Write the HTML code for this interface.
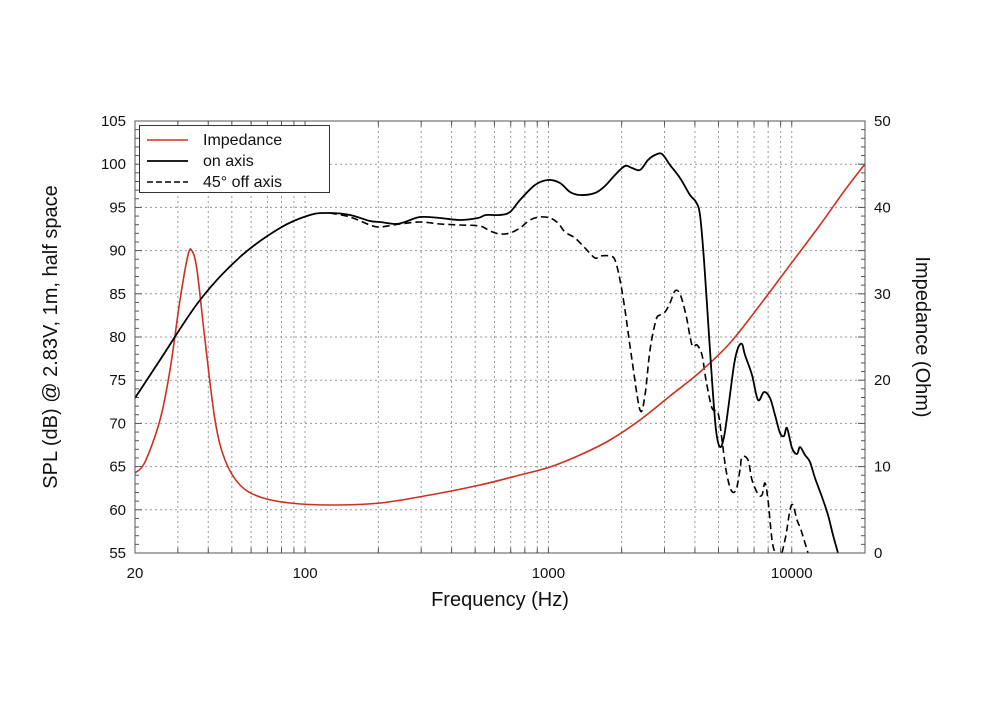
<!DOCTYPE html>
<html><head><meta charset="utf-8"><style>
html,body{margin:0;padding:0;background:#fff;}
svg{display:block;font-family:"Liberation Sans",Arial,sans-serif;}
</style></head><body>
<svg id="s" width="1000" height="718" viewBox="0 0 1000 718" xmlns="http://www.w3.org/2000/svg">
<rect width="1000" height="718" fill="#fff"/>
<g id="grid"></g>
<g id="curves"></g>
<rect x="135" y="121" width="730" height="432" fill="none" stroke="#555" stroke-width="1"/>
<g id="labels" font-size="15" fill="#111"></g>
<text x="500" y="606" font-size="20" text-anchor="middle" fill="#111">Frequency (Hz)</text>
<text transform="translate(57,337) rotate(-90)" font-size="20" text-anchor="middle" fill="#111">SPL (dB) @ 2.83V, 1m, half space</text>
<text transform="translate(916,337) rotate(90)" font-size="20" text-anchor="middle" fill="#111">Impedance (Ohm)</text>
<rect x="139.5" y="125.5" width="190" height="67" fill="#fff" stroke="#333" stroke-width="1"/>
<line x1="147" y1="140" x2="188" y2="140" stroke="#d03020" stroke-width="1.6"/>
<line x1="147" y1="161" x2="188" y2="161" stroke="#000" stroke-width="1.8"/>
<line x1="147" y1="182" x2="188" y2="182" stroke="#000" stroke-width="1.6" stroke-dasharray="6,3"/>
<text x="203" y="145" font-size="16" fill="#111">Impedance</text>
<text x="203" y="166" font-size="16" fill="#111">on axis</text>
<text x="203" y="187" font-size="16" fill="#111">45° off axis</text>
</svg>
<script>
var NS="http://www.w3.org/2000/svg";
function el(p,t,a,txt){var e=document.createElementNS(NS,t);for(var k in a)e.setAttribute(k,a[k]);if(txt!==undefined)e.textContent=txt;p.appendChild(e);return e;}
var L=135,R=865,T=121,B=553,dec=(R-L)/3;
function fx(f){return L+(Math.log10(f)-Math.log10(20))*dec;}
var g=document.getElementById('grid'),lab=document.getElementById('labels');
var fs=[];for(var d=10;d<=10000;d*=10)for(var m=1;m<10;m++){var f=m*d;if(f>20&&f<20000)fs.push(f);}
fs.forEach(function(f){var x=fx(f);el(g,'line',{x1:x,y1:T,x2:x,y2:B,stroke:'#999','stroke-width':1,'stroke-dasharray':'2,3'});
el(g,'line',{x1:x,y1:B,x2:x,y2:B-5,stroke:'#555'});el(g,'line',{x1:x,y1:T,x2:x,y2:T+5,stroke:'#555'});});
for(var i=1;i<10;i++){var y=B-i*43.2;el(g,'line',{x1:L,y1:y,x2:R,y2:y,stroke:'#999','stroke-width':1,'stroke-dasharray':'2,3'});}
for(var i=0;i<=50;i++){var y=B-i*8.64;var len=(i%5==0)?7:4;el(g,'line',{x1:L,y1:y,x2:L+len,y2:y,stroke:'#555'});el(g,'line',{x1:R,y1:y,x2:R-len,y2:y,stroke:'#555'});}
for(var i=0;i<=10;i++){var y=B-i*43.2;el(lab,'text',{x:126,y:y+5,'text-anchor':'end'},String(55+5*i));}
for(var i=0;i<=5;i++){var y=B-i*86.4;el(lab,'text',{x:874,y:y+5},String(10*i));}
[[20,'20'],[100,'100'],[1000,'1000'],[10000,'10000']].forEach(function(a){el(lab,'text',{x:fx(a[0]),y:578,'text-anchor':'middle'},a[1]);});
function path(p){var d='M'+p[0][0]+','+p[0][1];for(var i=0;i<p.length-1;i++){var p0=p[i-1]||p[i],p1=p[i],p2=p[i+1],p3=p[i+2]||p2;
d+=' C'+(p1[0]+(p2[0]-p0[0])/6)+','+(p1[1]+(p2[1]-p0[1])/6)+' '+(p2[0]-(p3[0]-p1[0])/6)+','+(p2[1]-(p3[1]-p1[1])/6)+' '+p2[0]+','+p2[1];}return d;}
var c=document.getElementById('curves');
var on=[[135,398],[160,360],[200,300],[240,257],[280,228],[310,215],[330,213],[350,215],[370,221],[380,222],[395,224],[405,222],[420,217],[440,218],[460,220],[478,218],[486,215],[500,215],[510,212],[520,200],[535,185],[548,180],[560,183],[570,192],[580,195],[595,193],[605,186],[615,175],[625,166],[632,168],[640,170],[648,160],[655,155],[662,154],[670,165],[680,178],[690,195],[696,202],[700,215],[704,260],[708,320],[712,380],[716,430],[720,447],[724,437],[728,410],[734,365],[738,348],[742,344],[745,355],[752,375],[758,400],[764,392],[770,398],[775,415],[780,433],[784,436],[787,428],[792,448],[797,454],[800,447],[805,455],[810,462],[815,478],[822,497],[828,515],[833,535],[838,553]];
var off1=[[330,213],[350,217],[370,225],[380,227],[400,224],[420,222],[440,224],[460,225],[480,226],[490,231],[500,234],[510,233],[520,228],[530,220],[540,217],[550,218],[558,223],[565,232],[575,238],[585,248],[595,258],[600,256],[610,256],[615,260],[620,280],[625,310],[632,360],[640,410],[645,395],[650,350],[656,320],[660,315],[665,312],[670,303],[675,291],[680,294],[686,315],[692,345],[697,345],[702,355],[706,380],[712,408],[718,413],[722,440],[726,470],[731,490],[736,490],[740,470],[742,457],[748,460],[752,480],[758,494],[762,495],[765,483],[768,500],[772,540],[775,553]];
var off2=[[782,553],[786,535],[790,510],[793,505],[797,520],[801,530],[808,553]];
var imp=[[135,473],[145,462],[160,420],[170,370],[180,300],[188,255],[192,251],[197,270],[205,340],[215,420],[225,460],[240,485],[260,497],[290,503],[330,505],[380,503],[430,495],[480,485],[520,475],[550,467],[580,455],[610,440],[640,420],[670,396],[700,372],[730,343],[760,305],[790,265],[820,225],[845,190],[865,164]];
el(c,'path',{d:path(off1),fill:'none',stroke:'#000','stroke-width':1.6,'stroke-dasharray':'7,4'});
el(c,'path',{d:path(off2),fill:'none',stroke:'#000','stroke-width':1.6,'stroke-dasharray':'7,4'});
el(c,'path',{d:path(imp),fill:'none',stroke:'#d03020','stroke-width':1.6});
el(c,'path',{d:path(on),fill:'none',stroke:'#000','stroke-width':1.8});
</script>
</body></html>
